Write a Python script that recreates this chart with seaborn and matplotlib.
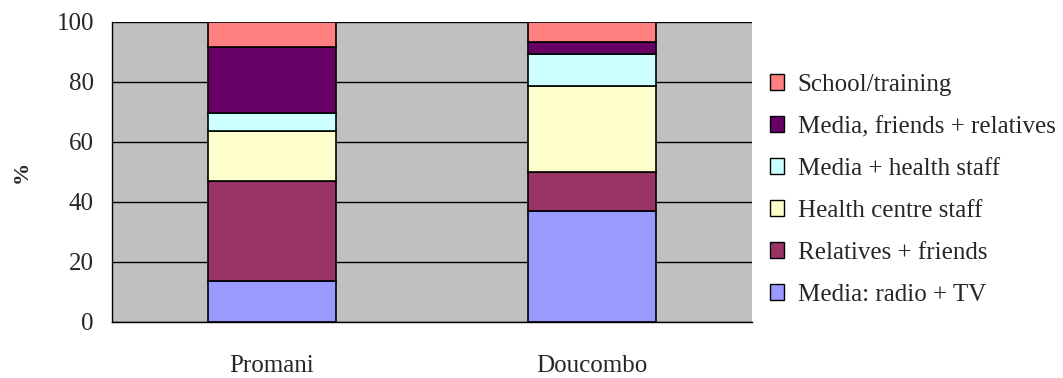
import matplotlib
matplotlib.use("Agg")
import matplotlib.pyplot as plt
import seaborn as sns
import numpy as np
from matplotlib.patches import Patch

sns.set_style("white")
plt.rcParams["font.family"] = ["Liberation Serif", "DejaVu Serif"]

villages = ["Promani", "Doucombo"]
sources = ["Media: radio + TV", "Relatives + friends", "Health centre staff",
           "Media + health staff", "Media, friends + relatives", "School/training"]
media_radio_tv = [13.7, 36.9]
relatives_friends = [33.4, 13.1]
health_centre_staff = [16.6, 28.6]
media_health_staff = [5.9, 10.6]
media_friends_relatives = [22.2, 4.2]
school_training = [8.2, 6.6]
series = [media_radio_tv, relatives_friends, health_centre_staff,
          media_health_staff, media_friends_relatives, school_training]
colors = ["#9999FF", "#993366", "#FFFFCC", "#CCFFFF", "#660066", "#FF8080"]

fig = plt.figure(figsize=(10.63, 3.78), dpi=100)
ax = fig.add_axes([112 / 1063, 56 / 378, 640 / 1063, 300 / 378])
ax.set_facecolor("#C0C0C0")

ax.set_axisbelow(True)
ax.yaxis.grid(True, color="black", linewidth=1)

bottom = np.zeros(len(villages))
for vals, col in zip(series, colors):
    sns.barplot(x=villages, y=vals, bottom=bottom, color=col, edgecolor="black",
                linewidth=1.2, width=0.4, saturation=1, ax=ax, zorder=3)
    bottom = bottom + np.array(vals)

ax.set_xlim(-0.5, 1.5)
ax.set_ylim(0, 100)
ax.set_yticks([0, 20, 40, 60, 80, 100])
ax.tick_params(axis="y", labelsize=18, length=0, pad=13)
ax.set_xticks([0, 1])
ax.set_xticklabels(villages, fontsize=18)
ax.tick_params(axis="x", which="major", length=0, pad=24)
ax.set_xticks([-0.5, 0.5, 1.5], minor=True)
ax.tick_params(axis="x", which="minor", length=7, width=1, color="black", direction="out")
ax.set_ylabel("%", fontsize=16, fontweight="bold")
ax.yaxis.set_label_coords(-80 / 640, 0.5)
ax.set_xlabel("")

for s in ["top", "right"]:
    ax.spines[s].set_visible(False)
for s in ["left", "bottom"]:
    ax.spines[s].set_color("black")
    ax.spines[s].set_linewidth(1)
    ax.spines[s].set_zorder(4)

handles = [Patch(facecolor=c, edgecolor="black", linewidth=1) for c in colors]
fig.legend(handles[::-1], sources[::-1], loc="upper left",
           bbox_to_anchor=(770 / 1063, 1 - 74 / 378), frameon=False,
           fontsize=18, labelspacing=0.8, handlelength=0.55, handleheight=0.6,
           handletextpad=0.55, borderaxespad=0, borderpad=0)

fig.savefig("out.png", dpi=100)
